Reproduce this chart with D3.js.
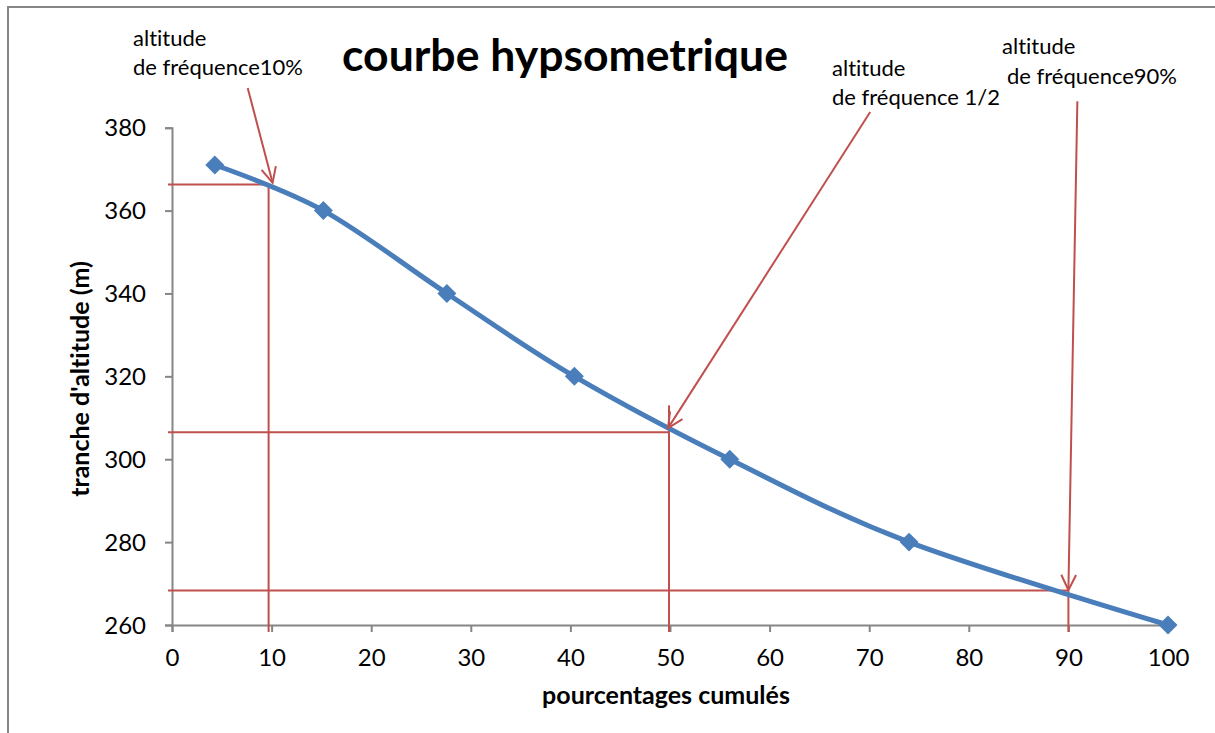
<!DOCTYPE html>
<html>
<head>
<meta charset="utf-8">
<script src="https://cdn.jsdelivr.net/npm/d3@7"></script>
<style>
  html, body { margin: 0; padding: 0; background: #fff; }
  svg { display: block; font-family: Lato, "Open Sans", sans-serif; font-variant-ligatures: none; }
  svg text { font-variant-ligatures: none; font-feature-settings: "liga" 0, "clig" 0; }
</style>
</head>
<body>
<svg id="chart" width="1215" height="733"></svg>
<script>
// ---- data ----
const cumulativePercent = [4.3, 15.2, 27.6, 40.4, 56.0, 74.0, 100];
const altitude = [371, 360, 340, 320, 300, 280, 260];
const xTicks = [0, 10, 20, 30, 40, 50, 60, 70, 80, 90, 100];
const yTicks = [260, 280, 300, 320, 340, 360, 380];
// reference lines (percent, altitude) and top of the vertical segment
const refPercent = [9.7, 49.9, 90];
const refAltitude = [366.3, 306.5, 268.3];
const refVerticalTop = [366.3, 313, 268.3];
// annotation arrows: start and end in data coordinates
const arrowStartX = [7.6, 70.1, 90.9];
const arrowStartY = [389.6, 383.8, 386.4];
const arrowEndX = [10.1, 49.8, 90.0];
const arrowEndY = [366.7, 307.5, 268.4];
const annotationLine1 = ["altitude", "altitude", "altitude"];
const annotationLine2 = ["de fréquence10%", "de fréquence 1/2", "de fréquence90%"];
const titleText = "courbe hypsometrique";
const xTitle = "pourcentages cumulés";
const yTitle = "tranche d'altitude (m)";

// ---- layout ----
const svg = d3.select("#chart");
const x = d3.scaleLinear().domain([0, 100]).range([172, 1168]);
const y = d3.scaleLinear().domain([260, 380]).range([625, 127.7]);
const gray = "#868686";
const red = "#C0504D";
const blue = "#4A7EBB";

// outer border
svg.append("rect").attr("x", 8).attr("y", 7).attr("width", 1220).attr("height", 740)
  .attr("fill", "none").attr("stroke", gray).attr("stroke-width", 2);

// title
svg.append("text").attr("x", 565).attr("y", 71).attr("text-anchor", "middle")
  .attr("font-size", 44.5).attr("font-weight", "bold").attr("fill", "#000").text(titleText);

// axes
const xAxis = d3.axisBottom(x).tickValues(xTicks).tickSize(7).tickPadding(17).tickFormat(d3.format("d"));
const yAxis = d3.axisLeft(y).tickValues(yTicks).tickSize(7).tickPadding(19).tickFormat(d3.format("d"));
const gx = svg.append("g").attr("transform", `translate(0,${y(260)})`).call(xAxis);
const gy = svg.append("g").attr("transform", `translate(${x(0)},0)`).call(yAxis);
[gx, gy].forEach(g => {
  g.selectAll(".domain").attr("stroke", gray).attr("stroke-width", 2);
  g.selectAll(".tick line").attr("stroke", gray).attr("stroke-width", 2);
  g.selectAll(".tick text").attr("font-size", 24).attr("fill", "#000").attr("font-family", "Lato, sans-serif");
});
gy.selectAll(".tick text").attr("dy", "0.34em");
gx.selectAll(".tick text").attr("dy", "0.71em");

// axis titles
svg.append("text").attr("x", 666).attr("y", 704).attr("text-anchor", "middle")
  .attr("font-size", 25).attr("font-weight", "bold").text(xTitle);
svg.append("text").attr("transform", "translate(89,379) rotate(-90)").attr("text-anchor", "middle")
  .attr("font-size", 25).attr("font-weight", "bold").text(yTitle);

// reference lines
const refs = svg.append("g").attr("stroke", red).attr("stroke-width", 2).attr("fill", "none");
refPercent.forEach((p, i) => {
  refs.append("line").attr("x1", x(-0.4)).attr("x2", x(p))
    .attr("y1", y(refAltitude[i])).attr("y2", y(refAltitude[i]));
  refs.append("line").attr("x1", x(p)).attr("x2", x(p))
    .attr("y1", y(258.3)).attr("y2", y(refVerticalTop[i]));
});

// curve
const pts = cumulativePercent.map((p, i) => [p, altitude[i]]);
svg.append("path").datum(pts)
  .attr("d", d3.line().x(d => x(d[0])).y(d => y(d[1])).curve(d3.curveCatmullRom.alpha(0)))
  .attr("fill", "none").attr("stroke", blue).attr("stroke-width", 5).attr("stroke-linejoin", "round");

// markers (diamonds)
svg.append("g").selectAll("path").data(pts).join("path")
  .attr("d", d3.symbol().type(d3.symbolSquare).size(180))
  .attr("transform", d => `translate(${x(d[0])},${y(d[1])}) rotate(45)`)
  .attr("fill", blue);

// arrows
const arrows = svg.append("g").attr("stroke", red).attr("stroke-width", 2).attr("fill", "none");
arrowStartX.forEach((sx, i) => {
  const x1 = x(sx), y1 = y(arrowStartY[i]), x2 = x(arrowEndX[i]), y2 = y(arrowEndY[i]);
  arrows.append("line").attr("x1", x1).attr("y1", y1).attr("x2", x2).attr("y2", y2);
  const ang = Math.atan2(y2 - y1, x2 - x1);
  const L = 17, spread = Math.PI / 7;
  const a1 = ang + Math.PI - spread, a2 = ang + Math.PI + spread;
  arrows.append("path").attr("d",
    `M${x2 + L * Math.cos(a1)},${y2 + L * Math.sin(a1)} L${x2},${y2} L${x2 + L * Math.cos(a2)},${y2 + L * Math.sin(a2)}`)
    .attr("stroke-linejoin", "miter");
});

// annotation texts
const annX1 = [133, 832, 1002], annY1 = [46, 76, 54];
const annX2 = [133, 832, 1007], annY2 = [75, 105, 84];
annotationLine1.forEach((t, i) => {
  svg.append("text").attr("x", annX1[i]).attr("y", annY1[i]).attr("font-size", 22).text(t);
  svg.append("text").attr("x", annX2[i]).attr("y", annY2[i]).attr("font-size", 22).text(annotationLine2[i]);
});
</script>
</body>
</html>
